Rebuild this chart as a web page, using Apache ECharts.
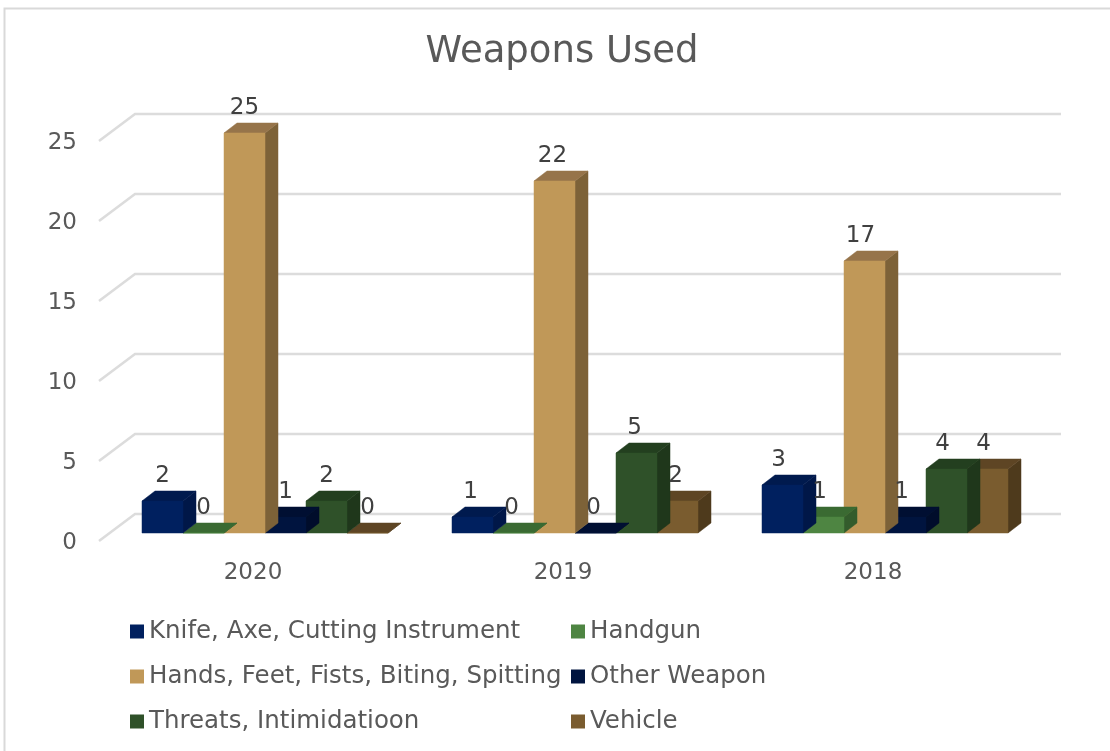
<!DOCTYPE html>
<html><head><meta charset="utf-8">
<style>html,body{margin:0;padding:0;background:#fff}#c{width:1110px;height:751px}</style>
<script src="https://cdn.jsdelivr.net/npm/echarts@6/dist/echarts.min.js"></script>
</head><body><div id="c"></div>
<script>
const years = ['2020','2019','2018'];
const knife = [2,1,3];
const handgun = [0,0,1];
const hands = [25,22,17];
const other = [1,0,1];
const threats = [2,5,4];
const vehicle = [0,2,4];
const yTicks = [0,5,10,15,20,25];
const names = ['Knife, Axe, Cutting Instrument','Handgun','Hands, Feet, Fists, Biting, Spitting','Other Weapon','Threats, Intimidatioon','Vehicle'];
const values = [knife,handgun,hands,other,threats,vehicle];
const fronts = ['#00205f','#4e8542','#c09858','#00143f','#2f5129','#7a5c2f'];
const tops   = ['#001a4e','#3a6a32','#96744a','#000f32','#233f1f','#5e4524'];
const sides  = ['#001748','#335c2c','#7d6238','#000d2b','#1f371b','#4e3a1c'];
const FONT = '"DejaVu Sans", Verdana, sans-serif';
const barW = 41, dx = 13, dy = 10, offX = 12, offY = -8;

function barGeom(api, si){
  const p = api.coord([api.value(0), api.value(1)]);
  const base = api.coord([api.value(0), 0]);
  const x0 = p[0] + (si-3)*barW + offX;
  return {x0, x1:x0+barW, yt:p[1]+offY, yb:base[1]+offY};
}
function renderBar(si){
  return function(params, api){
    const g = barGeom(api, si);
    const poly = (pts, fill)=>({type:'polygon',shape:{points:pts},style:{fill,stroke:fill,lineWidth:0.5}});
    return {type:'group',children:[
      poly([[g.x1,g.yb],[g.x1+dx,g.yb-dy],[g.x1+dx,g.yt-dy],[g.x1,g.yt]], sides[si]),
      poly([[g.x0,g.yt],[g.x0+dx,g.yt-dy],[g.x1+dx,g.yt-dy],[g.x1,g.yt]], tops[si]),
      poly([[g.x0,g.yb],[g.x0,g.yt],[g.x1,g.yt],[g.x1,g.yb]], fronts[si])
    ]};
  };
}
const barSeries = names.map((n,si)=>({
  type:'custom', name:n, z:10-si, coordinateSystem:'cartesian2d',
  itemStyle:{color:fronts[si]},
  encode:{x:0,y:1},
  data: values[si].map((v,i)=>[i,v]),
  renderItem: renderBar(si)
}));
const labelSeries = {
  type:'custom', name:'labels', z:20, silent:true,
  encode:{x:0,y:1},
  data: values.flatMap((arr,si)=>arr.map((v,i)=>[i,v,si])),
  renderItem(params, api){
    const si = api.value(2);
    const g = barGeom(api, si);
    return {type:'text',style:{text:String(api.value(1)),x:(g.x0+g.x1)/2-api.value(0)*2,y:g.yt-25,
      align:'center',verticalAlign:'middle',fill:'#404040',font:'23px '+FONT}};
  }
};
const wallSeries = {
  type:'custom', name:'walls', z:1, silent:true,
  encode:{x:0,y:1},
  data: yTicks.map(t=>[0,t]),
  renderItem(params, api){
    const p = api.coord([0, api.value(1)]);
    const s = api.size([1,0])[0];
    const x0 = p[0]-s/2;
    return {type:'polyline',shape:{points:[[x0+1,p[1]],[x0+37,p[1]-27],[x0+37+s*3-4,p[1]-27]]},
      style:{fill:null,stroke:'#dcdcdc',lineWidth:2.5}};
  }
};
const legendBase = {orient:'vertical',icon:'rect',itemWidth:14,itemHeight:14,itemGap:18,selectedMode:false,
  textStyle:{fontFamily:FONT,fontSize:24.5,color:'#595959',lineHeight:27}};
const chart = echarts.init(document.getElementById('c'),null,{renderer:'canvas'});
chart.setOption({
  animation:false,
  backgroundColor:'#fff',
  title:{text:'Weapons Used',left:557,top:29,textAlign:'center',
    textStyle:{fontFamily:FONT,fontSize:37,fontWeight:'normal',color:'#595959'}},
  grid:{left:98,top:141,width:930,height:400},
  xAxis:{type:'category',data:years,axisLine:{show:false},axisTick:{show:false},
    axisLabel:{fontFamily:FONT,fontSize:23,color:'#595959',margin:21}},
  yAxis:{type:'value',min:0,max:25,interval:5,axisLine:{show:false},axisTick:{show:false},splitLine:{show:false},
    axisLabel:{margin:21,formatter:'{a|{value}}',
      rich:{a:{fontFamily:FONT,fontSize:23,color:'#595959',padding:[4,0,0,0]}}}},
  legend:[
    Object.assign({},legendBase,{left:125,top:613,data:[names[0],names[2],names[4]]}),
    Object.assign({},legendBase,{left:566,top:613,data:[names[1],names[3],names[5]]})
  ],
  graphic:[{type:'rect',shape:{x:4.5,y:8.5,width:1200,height:900},style:{fill:'none',stroke:'#d9d9d9',lineWidth:2},silent:true}],
  series:[wallSeries,...barSeries,labelSeries]
});
</script></body></html>
